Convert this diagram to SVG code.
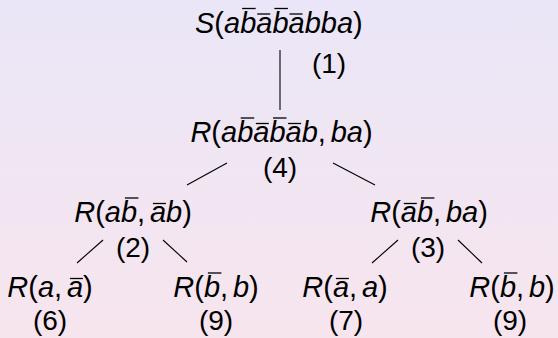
<svg xmlns="http://www.w3.org/2000/svg" width="558" height="338" viewBox="0 0 558 338">
<defs>
<linearGradient id="bg" x1="0" y1="0" x2="0" y2="1">
<stop offset="0" stop-color="#eae6f7"/>
<stop offset="1" stop-color="#f7e5ee"/>
</linearGradient>
</defs>
<style>
text{font-family:"Liberation Sans",Arial,sans-serif;fill:#000}
.m{font-size:29px}
.l{font-size:28px;text-anchor:middle}
.i{font-style:italic}
.bar{stroke:#000;stroke-width:1.3}
.edge{stroke:#000;stroke-width:1.1;fill:none}
</style>
<rect width="558" height="338" fill="url(#bg)"/>
<g id="connectors">
<line class="edge" x1="280" y1="50" x2="280" y2="110"/>
<line class="edge" x1="227" y1="163" x2="187" y2="185"/>
<line class="edge" x1="333" y1="163" x2="375" y2="185"/>
<line class="edge" x1="103" y1="240" x2="77" y2="263"/>
<line class="edge" x1="163" y1="240" x2="187" y2="262"/>
<line class="edge" x1="398" y1="240" x2="372" y2="263"/>
<line class="edge" x1="458" y1="240" x2="482" y2="263"/>
</g>
<g id="n1">
<text class="m" x="195" y="32.5"><tspan class="i">S</tspan>(<tspan class="i">abababba</tspan>)</text>
<line class="bar" x1="242.1" y1="8.5" x2="255.6" y2="8.5"/>
<line class="bar" x1="257.2" y1="14" x2="270.2" y2="14"/>
<line class="bar" x1="274.4" y1="8.5" x2="287.9" y2="8.5"/>
<line class="bar" x1="289.5" y1="14" x2="302.5" y2="14"/>
<text class="l" x="329" y="73">(1)</text>
</g>
<g id="n4">
<text class="m" x="190.4" y="142"><tspan class="i">R</tspan>(<tspan class="i">ababab</tspan>,<tspan class="i" dx="4.8">ba</tspan>)</text>
<line class="bar" x1="240.7" y1="118" x2="254.2" y2="118"/>
<line class="bar" x1="255.8" y1="123.5" x2="268.8" y2="123.5"/>
<line class="bar" x1="273" y1="118" x2="286.5" y2="118"/>
<line class="bar" x1="288.1" y1="123.5" x2="301.1" y2="123.5"/>
<text class="l" x="280" y="177">(4)</text>
</g>
<g id="n2">
<text class="m" x="74.2" y="222"><tspan class="i">R</tspan>(<tspan class="i">ab</tspan>,<tspan class="i" dx="4.8">ab</tspan>)</text>
<line class="bar" x1="124.9" y1="198" x2="138.4" y2="198"/>
<line class="bar" x1="152.9" y1="203.5" x2="165.9" y2="203.5"/>
<text class="l" x="133" y="256.5">(2)</text>
</g>
<g id="n3">
<text class="m" x="370.2" y="222"><tspan class="i">R</tspan>(<tspan class="i">ab</tspan>,<tspan class="i" dx="4.8">ba</tspan>)</text>
<line class="bar" x1="403.8" y1="203.5" x2="416.8" y2="203.5"/>
<line class="bar" x1="420.9" y1="198" x2="434.4" y2="198"/>
<text class="l" x="428" y="256.5">(3)</text>
</g>
<g id="n6">
<text class="m" x="7.3" y="297"><tspan class="i">R</tspan>(<tspan class="i">a</tspan>,<tspan class="i" dx="4.8">a</tspan>)</text>
<line class="bar" x1="69.9" y1="278.5" x2="82.9" y2="278.5"/>
<text class="l" x="50" y="330">(6)</text>
</g>
<g id="n9a">
<text class="m" x="173.3" y="297"><tspan class="i">R</tspan>(<tspan class="i">b</tspan>,<tspan class="i" dx="4.8">b</tspan>)</text>
<line class="bar" x1="207.9" y1="273" x2="221.4" y2="273"/>
<text class="l" x="216" y="330">(9)</text>
</g>
<g id="n7">
<text class="m" x="302.3" y="297"><tspan class="i">R</tspan>(<tspan class="i">a</tspan>,<tspan class="i" dx="4.8">a</tspan>)</text>
<line class="bar" x1="335.9" y1="278.5" x2="348.9" y2="278.5"/>
<text class="l" x="346" y="330">(7)</text>
</g>
<g id="n9b">
<text class="m" x="469.3" y="297"><tspan class="i">R</tspan>(<tspan class="i">b</tspan>,<tspan class="i" dx="4.8">b</tspan>)</text>
<line class="bar" x1="503.9" y1="273" x2="517.4" y2="273"/>
<text class="l" x="510" y="330">(9)</text>
</g>
</svg>
